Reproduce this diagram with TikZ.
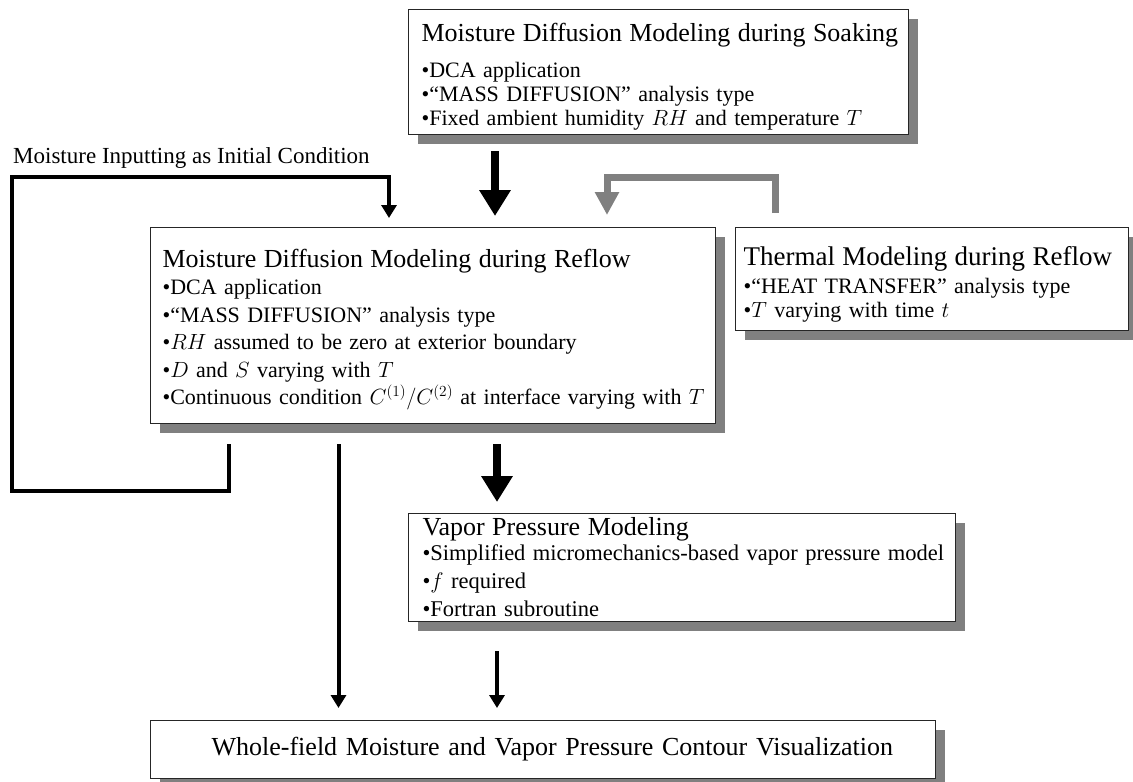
\RequirePackage{fix-cm}
\documentclass[tikz,border=0pt]{standalone}
\usepackage{fontspec}
\setmainfont{Liberation Serif}
\usetikzlibrary{arrows.meta,shadows,calc}
\newcommand{\topgap}[1]{\rule{0pt}{#1pt}}
\newcommand{\botgap}[1]{\rule[-#1pt]{0pt}{#1pt}}
\begin{document}
\begin{tikzpicture}[x=1pt,y=-1pt,
  box/.style={draw=black!85, line width=1.2pt, fill=white,
    drop shadow={shadow xshift=9pt, shadow yshift=-9pt, fill=black!50, opacity=1},
    anchor=north west, inner ysep=0pt, align=left},
  bigarrow/.style={line width=7.5pt, -{Triangle[width=30pt,length=26pt]}},
  grayarrow/.style={draw=black!50, line width=7pt, line join=miter, -{Triangle[width=23pt,length=23pt]}},
  thinarrow/.style={line width=4pt, line join=miter, -{Triangle[width=15pt,length=13pt]}},
  lbl/.style={inner sep=0pt, anchor=west}
]
\useasboundingbox (0,0) rectangle (1133,782);

% boxes
\node[box, minimum height=125pt, inner xsep=13pt, text width=474pt,
      font=\fontsize{22}{24}\selectfont] (soak) at (408,9)
 {\mbox{\fontsize{26}{30}\selectfont\topgap{29}Moisture Diffusion Modeling during Soaking}\\[12pt]
  \mbox{•DCA application}\\
  \mbox{•“MASS DIFFUSION” analysis type}\\
  \mbox{•Fixed ambient humidity $RH$ and temperature $T$\botgap{6}}};

\node[box, minimum height=196pt, inner xsep=12pt, text width=541pt,
      font=\fontsize{22}{27.5}\selectfont] (reflow) at (150,227)
 {\mbox{\fontsize{26}{30}\selectfont\topgap{26.5}Moisture Diffusion Modeling during Reflow}\\
  \mbox{•DCA application}\\
  \mbox{•“MASS DIFFUSION” analysis type}\\
  \mbox{•$RH$ assumed to be zero at exterior boundary}\\
  \mbox{•$D$ and $S$ varying with $T$}\\
  \mbox{•Continuous condition $C^{(1)}/C^{(2)}$ at interface varying with $T$\botgap{6}}};

\node[box, minimum height=103pt, inner xsep=8pt, text width=377pt,
      font=\fontsize{22}{23.5}\selectfont] (thermal) at (735,227)
 {\mbox{\fontsize{27}{30}\selectfont\topgap{30.5}Thermal Modeling during Reflow}\\[4.5pt]
  \mbox{•“HEAT TRANSFER” analysis type}\\
  \mbox{•$T$ varying with time $t$\botgap{6}}};

\node[box, minimum height=108pt, inner xsep=14pt, text width=519pt,
      font=\fontsize{22.5}{28}\selectfont] (vapor) at (408,513)
 {\mbox{\fontsize{26}{30}\selectfont\topgap{21}Vapor Pressure Modeling}\\[-3pt]
  \mbox{•Simplified micromechanics-based vapor pressure model}\\
  \mbox{•$f$ required}\\
  \mbox{•Fortran subroutine\botgap{4}}};

\node[box, minimum height=58pt, inner xsep=61pt, text width=663pt,
      font=\fontsize{26}{30}\selectfont] (whole) at (150,720)
 {\mbox{Whole-field Moisture and Vapor Pressure Contour Visualization}};

\node[lbl, font=\fontsize{23}{26}\selectfont] (loopl) at (13,158)
 {Moisture Inputting as Initial Condition};

% helper coordinates
\coordinate (lr) at (228.5,491);
\coordinate (ll) at (12,177);
\coordinate (lt) at (389,177);
\coordinate (c1) at (495,150);
\coordinate (c2) at (497,443);
\coordinate (c3) at (338.5,443);
\coordinate (gr) at (775,177);
\coordinate (gl) at (607,177);

% connectors
\draw[thinarrow, shorten <=20pt, shorten >=9pt]
  (reflow.south -| lr) -- (lr) -| (ll) -- (lt) -- (lt |- reflow.north);
\draw[bigarrow, shorten <=16pt, shorten >=11pt] (soak.south -| c1) -- (c1 |- reflow.north);
\draw[grayarrow, shorten <=14pt, shorten >=12pt]
  (thermal.north -| gr) -- (gr) -- (gl) -- (gl |- reflow.north);
\draw[bigarrow, shorten <=20pt, shorten >=11pt] (reflow.south -| c2) -- (vapor.north -| c2);
\draw[thinarrow, shorten <=20pt, shorten >=12pt] (reflow.south -| c3) -- (whole.north -| c3);
\draw[thinarrow, shorten <=29pt, shorten >=12pt] (vapor.south -| c2) -- (whole.north -| c2);
\end{tikzpicture}
\end{document}
